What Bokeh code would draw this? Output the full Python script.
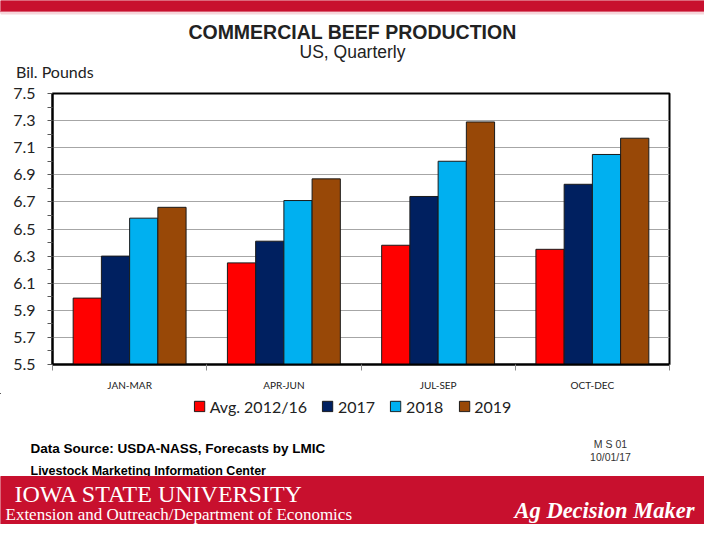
from bokeh.core.properties import value
from bokeh.embed import file_html
from bokeh.layouts import column
from bokeh.models import FixedTicker, Legend, LegendItem, Range1d
from bokeh.plotting import figure
from bokeh.resources import INLINE

quarters = ["JAN-MAR", "APR-JUN", "JUL-SEP", "OCT-DEC"]
series_names = ["Avg. 2012/16", "2017", "2018", "2019"]
avg_2012_16 = [5.99, 6.25, 6.38, 6.35]
prod_2017 = [6.30, 6.41, 6.74, 6.83]
prod_2018 = [6.58, 6.71, 7.00, 7.05]
prod_2019 = [6.66, 6.87, 7.29, 7.17]
y_ticks = [5.5, 5.7, 5.9, 6.1, 6.3, 6.5, 6.7, 6.9, 7.1, 7.3, 7.5]
y_minor = [5.6, 5.8, 6.0, 6.2, 6.4, 6.6, 6.8, 7.0, 7.2, 7.4]

COLORS = ["#FF0000", "#002060", "#00B0F0", "#984807"]
ISU_RED = "#C8102E"
W = 704


def no_align(fig):
    if "frame_align" in fig.properties():
        fig.frame_align = False
    return fig


def blank(height):
    p = figure(width=W, height=height, x_range=Range1d(0, W), y_range=Range1d(height, 0),
               x_axis_type=None, y_axis_type=None, toolbar_location=None,
               output_backend="svg", min_border=0)
    p.grid.visible = False
    p.outline_line_color = None
    return no_align(p)


def txt(fig, x, y, text, size, font="Liberation Sans", style="normal", color="#222222",
        align="left"):
    fig.text(x=[x], y=[y], text=[text], text_align=align, text_baseline="middle",
             text_font=value(font), text_font_style=style, text_font_size=size,
             text_color=color)


# header
head = blank(81)
head.quad(left=0, right=W, top=0, bottom=11.6, color=ISU_RED)
head.quad(left=0, right=W, top=11.6, bottom=13.5, color="#F6D5DA")
txt(head, 352, 31, "COMMERCIAL BEEF PRODUCTION", "19.5px", style="bold", align="center")
txt(head, 352, 51.5, "US, Quarterly", "17.5px", align="center")
txt(head, 15.5, 71, "Bil. Pounds", "16px", font="Lato")

# main chart
p = figure(width=W, height=312, x_range=Range1d(0, len(quarters)), y_range=Range1d(5.5, 7.5),
           toolbar_location=None, output_backend="svg",
           min_border_left=52, min_border_right=35, min_border_top=12, min_border_bottom=26)
no_align(p)

bw = 0.183
series = [avg_2012_16, prod_2017, prod_2018, prod_2019]
for k, (vals, col) in enumerate(zip(series, COLORS)):
    xs = [i + 0.5 + (k - 1.5) * bw for i in range(len(quarters))]
    p.vbar(x=xs, top=vals, bottom=5.5, width=bw, fill_color=col,
           line_color="#1a1a1a", line_width=1)

p.outline_line_color = "black"
p.outline_line_width = 2
p.xgrid.visible = False
p.ygrid.ticker = FixedTicker(ticks=y_ticks)
p.ygrid.grid_line_color = "#A6A6A6"

p.yaxis.ticker = FixedTicker(ticks=y_ticks, minor_ticks=y_minor)
p.yaxis.axis_line_color = "black"
p.yaxis.axis_line_width = 2
p.yaxis.major_tick_out = 5
p.yaxis.major_tick_in = 0
p.yaxis.minor_tick_out = 5
p.yaxis.minor_tick_in = 0
p.yaxis.major_tick_line_color = "#595959"
p.yaxis.minor_tick_line_color = "#595959"
p.yaxis.major_label_standoff = 12
p.yaxis.major_label_text_font = "Lato"
p.yaxis.major_label_text_font_size = "16px"
p.yaxis.major_label_text_color = "#222222"

centers = [i + 0.5 for i in range(len(quarters))]
p.xaxis.ticker = FixedTicker(ticks=centers, minor_ticks=list(range(len(quarters) + 1)))
p.xaxis.major_label_overrides = {c: q for c, q in zip(centers, quarters)}
p.xaxis.axis_line_color = "black"
p.xaxis.axis_line_width = 2
p.xaxis.major_tick_line_color = None
p.xaxis.minor_tick_out = 6
p.xaxis.minor_tick_in = 0
p.xaxis.minor_tick_line_color = "#8C8C8C"
p.xaxis.major_label_standoff = 8
p.xaxis.major_label_text_font = "Lato"
p.xaxis.major_label_text_font_size = "10px"
p.xaxis.major_label_text_color = "#222222"

# legend strip (proxy bars sit outside the visible range)
lg = blank(25)
items = []
for name, col in zip(series_names, COLORS):
    r = lg.vbar(x=[-W], top=[-2 * W], bottom=[-3 * W], width=1,
                fill_color=col, line_color="#1a1a1a")
    items.append(LegendItem(label=name, renderers=[r]))
lg.add_layout(Legend(items=items, orientation="horizontal", location="center",
                     border_line_color=None, background_fill_alpha=0,
                     label_text_font="Lato", label_text_font_size="16px",
                     label_text_color="#222222", glyph_width=13, glyph_height=13,
                     label_standoff=4, spacing=14, padding=0, margin=0))

# footer
foot = blank(106)
txt(foot, 30, 30, "Data Source:  USDA-NASS, Forecasts by LMIC", "13.5px", style="bold",
    color="black")
txt(foot, 30, 52, "Livestock Marketing Information Center", "12.5px", style="bold",
    color="black")
txt(foot, 610, 25, "M S 01", "10.5px", color="#333333", align="center")
txt(foot, 610, 38, "10/01/17", "10.5px", color="#333333", align="center")
foot.quad(left=0, right=W, top=58, bottom=106, color=ISU_RED)
txt(foot, 14, 75, "IOWA STATE UNIVERSITY", "24px", font="Liberation Serif", color="white")
txt(foot, 5, 96, "Extension and Outreach/Department of Economics", "17px",
    font="Liberation Serif", color="white")
txt(foot, 694, 92, "Ag Decision Maker", "22.5px", font="Liberation Serif", style="bold italic",
    color="white", align="right")

page = column(head, p, lg, foot, spacing=0)
open("out.html", "w").write(file_html(page, INLINE))
